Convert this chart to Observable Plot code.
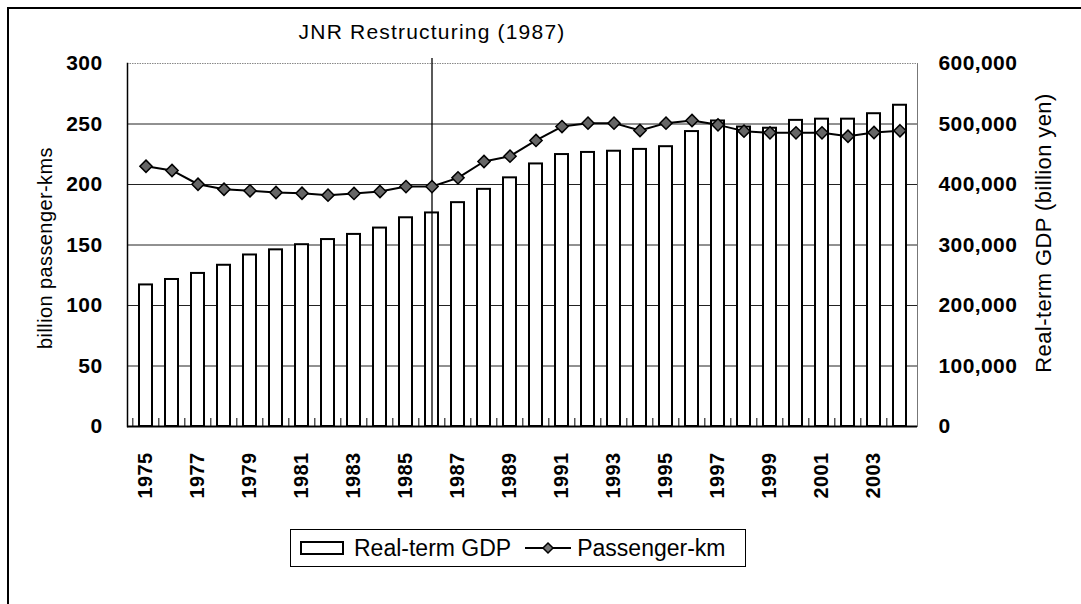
<!DOCTYPE html>
<html>
<head>
<meta charset="utf-8">
<script src="https://cdn.jsdelivr.net/npm/d3@7"></script>
<script src="https://cdn.jsdelivr.net/npm/@observablehq/plot@0.6"></script>
<style>
  html, body { margin: 0; padding: 0; background: #fff; }
  #wrap { position: relative; width: 1081px; height: 604px; overflow: hidden; background: #fff;
          font-family: "Liberation Sans", Arial, sans-serif; color: #000; }
  #border { position: absolute; left: 7px; top: 7px; width: 1080px; height: 600px;
            border-left: 2px solid #000; border-top: 2px solid #000; box-sizing: border-box; }
  #chart { position: absolute; left: 0; top: 0; }
  #chart svg text { letter-spacing: 0.4px; }
  #chart svg .jnr text { letter-spacing: 1.2px; }
  #legend { position: absolute; left: 290px; top: 529px; width: 456px; height: 38px;
            border: 1px solid #000; box-sizing: border-box; display: flex; align-items: center;
            font-size: 23px; white-space: nowrap; }
  #legend .sw-bar { display: inline-block; width: 40px; height: 10px; border: 2px solid #000;
                    margin-left: 9px; margin-right: 10px; }
  #legend .sw-line { margin-left: 14px; margin-right: 6px; }
</style>
</head>
<body>
<div id="wrap">
  <div id="border"></div>
  <div id="chart"></div>
  <div id="legend">
    <span class="sw-bar"></span><span>Real-term GDP</span>
    <svg class="sw-line" width="46" height="14" viewBox="0 0 46 14">
      <line x1="0" y1="7" x2="46" y2="7" stroke="#000" stroke-width="2"></line>
      <path d="M23 2 L28 7 L23 12 L18 7 Z" fill="#777" stroke="#000" stroke-width="1.5"></path>
    </svg><span>Passenger-km</span>
  </div>
</div>
<script>
// ---- data ----
const years = [1975, 1976, 1977, 1978, 1979, 1980, 1981, 1982, 1983, 1984,
               1985, 1986, 1987, 1988, 1989, 1990, 1991, 1992, 1993, 1994,
               1995, 1996, 1997, 1998, 1999, 2000, 2001, 2002, 2003, 2004];
// Real-term GDP (billion yen), right axis
const gdp = [234000, 243000, 253000, 266500, 283500, 292000, 300500, 309000, 317500, 328000,
             345000, 353000, 370000, 392000, 411000, 434000, 449500, 453000, 455000, 458000,
             462500, 487500, 505000, 495000, 493000, 506000, 508000, 508000, 517000, 531000];
// Passenger-km (billion passenger-kms), left axis
const passengerKm = [215.1, 211.6, 200.2, 196.1, 194.8, 193.4, 192.8, 191.2, 192.6, 194.2,
                     198.3, 198.3, 205.5, 219.0, 223.4, 236.4, 247.9, 250.7, 250.7, 244.6,
                     250.7, 252.9, 249.3, 244.1, 242.7, 242.7, 242.7, 239.9, 243.0, 244.4];
const leftTicks = [0, 50, 100, 150, 200, 250, 300];
const rightTickFactor = 2000; // 300 on the left = 600,000 on the right
const labeledYears = [1975, 1977, 1979, 1981, 1983, 1985, 1987, 1989, 1991, 1993,
                      1995, 1997, 1999, 2001, 2003];
const gridValues = [50, 100, 150, 200, 250];
const events = [{year: 1986, label: "JNR Restructuring (1987)"}];
const leftTitle = "billion passenger-kms";
const rightTitle = "Real-term GDP (billion yen)";

const table = years.map((y, i) => ({year: y, gdp: gdp[i], pkm: passengerKm[i]}));

const W = 1081, H = 510, mL = 127, mR = 164, mT = 63, mB = 84;
const step = (W - mL - mR) / years.length;
const tickLen = 8 * 300 / (H - mT - mB);

const chart = Plot.plot({
  width: W, height: H,
  marginLeft: mL, marginRight: mR, marginTop: mT, marginBottom: mB,
  style: {fontFamily: '"Liberation Sans", Arial, sans-serif', color: "#000", background: "transparent", overflow: "visible"},
  x: {type: "band", domain: years, paddingInner: 0.5, paddingOuter: 0.25, axis: null},
  y: {domain: [0, 300], axis: null},
  marks: [
    Plot.ruleY(gridValues, {stroke: "#222", strokeWidth: 1}),
    Plot.ruleY([300], {stroke: "#888", strokeWidth: 1, strokeDasharray: "1.5,1"}),
    Plot.frame({anchor: "right", stroke: "#777", strokeWidth: 1}),
    Plot.barY(table, {x: "year", y: d => d.gdp / rightTickFactor, fill: "white", stroke: "#000", strokeWidth: 2}),
    Plot.ruleX(years, {x: d => d, dx: -step / 2, y1: 0, y2: tickLen, stroke: "#000", strokeWidth: 1}),
    Plot.ruleX(events, {x: "year", stroke: "#000", strokeWidth: 1.3, insetTop: -5}),
    Plot.text(events, {x: "year", text: "label", frameAnchor: "top", dy: -39, fontSize: 21, className: "jnr"}),
    Plot.line(table, {x: "year", y: "pkm", stroke: "#000", strokeWidth: 2}),
    Plot.dot(table, {x: "year", y: "pkm", symbol: "diamond2", r: 5.5, fill: "#666", stroke: "#000", strokeWidth: 1.5}),
    Plot.ruleY([0], {stroke: "#000", strokeWidth: 2}),
    Plot.frame({anchor: "left", stroke: "#000", strokeWidth: 1.5}),
    Plot.axisY({anchor: "left", ticks: leftTicks, tickSize: 0, tickPadding: 25, fontSize: 21, fontWeight: "bold", label: null}),
    Plot.axisY({anchor: "right", ticks: leftTicks, tickFormat: d => (d * rightTickFactor).toLocaleString("en-US"),
                tickSize: 0, tickPadding: 21, fontSize: 21, fontWeight: "bold", label: null}),
    Plot.axisX({ticks: labeledYears, tickFormat: d => String(d), tickRotate: -90, tickSize: 0, tickPadding: 26,
                fontSize: 20, fontWeight: "bold", label: null}),
    Plot.text([leftTitle], {frameAnchor: "left", textAnchor: "middle", rotate: -90, dx: -82, dy: 3, fontSize: 20, text: d => d}),
    Plot.text([rightTitle], {frameAnchor: "right", textAnchor: "middle", rotate: -90, dx: 126, dy: -12, fontSize: 22, text: d => d})
  ]
});
document.getElementById("chart").appendChild(chart);
</script>
</body>
</html>
